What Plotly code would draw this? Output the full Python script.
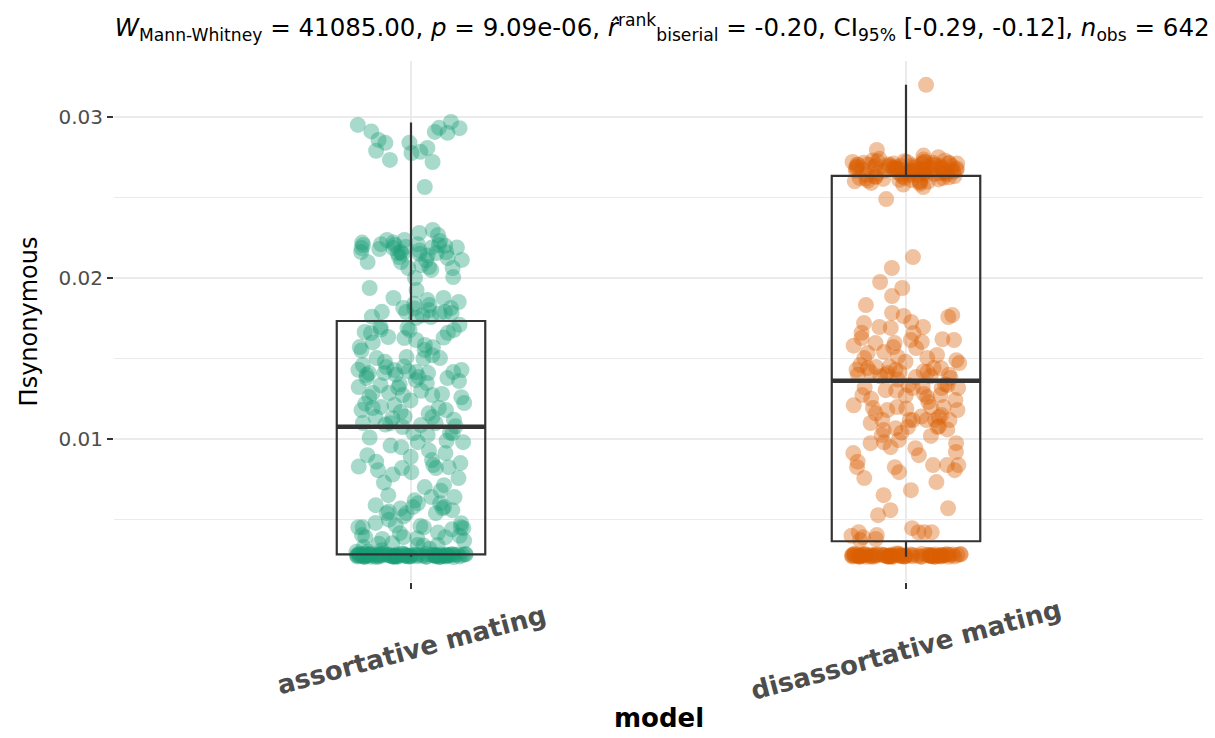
import plotly.graph_objects as go

categories = ["assortative mating", "disassortative mating"]
cat_pos = [1, 2]
colors = ["#1B9E77", "#D95F02"]

assortative_values = [
    0.02969, 0.02950, 0.02932, 0.02930, 0.02907, 0.02901, 0.02910, 0.02857, 0.02839, 0.02840,
    0.02807, 0.02790, 0.02783, 0.02776, 0.02733, 0.02720, 0.02565,
    0.02298, 0.02280, 0.02267, 0.02236, 0.02236, 0.02230, 0.02205, 0.02205, 0.02205, 0.02210,
    0.02193, 0.02186, 0.02186, 0.02190, 0.02161, 0.02161, 0.02155, 0.02155, 0.02150, 0.02124,
    0.02112, 0.02099, 0.02099, 0.02068, 0.02062, 0.02062, 0.02050, 0.02006, 0.02000, 0.01938,
    0.01925, 0.01876, 0.01876, 0.01863, 0.01851, 0.01832, 0.01814, 0.01814, 0.01801, 0.01789,
    0.01789, 0.01783, 0.01758, 0.01752, 0.02220, 0.02200, 0.02180, 0.02160, 0.02140, 0.02130,
    0.02170, 0.02210, 0.02110, 0.02080, 0.01810, 0.01780, 0.01760, 0.01840, 0.01790, 0.02220,
    0.02190, 0.02150, 0.01770,
    0.01677, 0.01658, 0.01615, 0.01509, 0.01503, 0.01571, 0.01677, 0.01665, 0.01696, 0.01690,
    0.01627, 0.01634, 0.01584, 0.01553, 0.01503, 0.01460, 0.01447, 0.01429, 0.01429, 0.01416,
    0.01410, 0.01410, 0.01416, 0.01398, 0.01385, 0.01410, 0.01348, 0.01366, 0.01335, 0.01379,
    0.01323, 0.01273, 0.01273, 0.01261, 0.01286, 0.01286, 0.01193, 0.01211, 0.01224, 0.01193,
    0.01168, 0.01180, 0.01137, 0.01130, 0.01137, 0.01087, 0.01099, 0.01099, 0.01075,
    0.01710, 0.01680, 0.01660, 0.01630, 0.01600, 0.01570, 0.01550, 0.01520, 0.01500, 0.01480,
    0.01450, 0.01430, 0.01420, 0.01400, 0.01380, 0.01360, 0.01340, 0.01320, 0.01300, 0.01280,
    0.01260, 0.01240, 0.01220, 0.01200, 0.01180, 0.01160, 0.01140, 0.01120, 0.01100, 0.01090,
    0.01080,
    0.01025, 0.01037, 0.01037, 0.00981, 0.00981, 0.00950, 0.00913, 0.00900, 0.00851, 0.00820,
    0.00826, 0.00820, 0.00795, 0.00839, 0.00807, 0.00870, 0.00758, 0.00714, 0.00702, 0.00640,
    0.00602, 0.00578, 0.00578, 0.00559, 0.00571, 0.00640, 0.00652, 0.00602, 0.00590, 0.00540,
    0.00540, 0.00540, 0.00466, 0.00453, 0.00453, 0.00447, 0.00453, 0.00453, 0.00478, 0.00404,
    0.00391, 0.00385, 0.00391, 0.00416, 0.00391, 0.00354, 0.00342, 0.00342,
    0.01040, 0.01010, 0.00990, 0.00960, 0.00930, 0.00890, 0.00860, 0.00830, 0.00780, 0.00730,
    0.00680, 0.00620, 0.00570, 0.00550, 0.00520, 0.00500, 0.00480, 0.00460, 0.00440, 0.00420,
    0.00400, 0.00380, 0.00370, 0.00350, 0.00340, 0.00330, 0.00320, 0.00310, 0.00300, 0.00300,
    0.00290, 0.00290,
    0.00270, 0.00275, 0.00280, 0.00272, 0.00278, 0.00285, 0.00268, 0.00282, 0.00276, 0.00271,
    0.00279, 0.00284, 0.00273, 0.00277, 0.00281, 0.00269, 0.00286, 0.00274, 0.00283, 0.00270,
    0.00278, 0.00272, 0.00288, 0.00275, 0.00280, 0.00267, 0.00282, 0.00276, 0.00271, 0.00285,
    0.00279, 0.00273, 0.00277, 0.00284, 0.00270, 0.00281, 0.00274, 0.00290, 0.00276, 0.00272,
    0.00283, 0.00279, 0.00268, 0.00286, 0.00275, 0.00280, 0.00271, 0.00277, 0.00284, 0.00273,
    0.00278, 0.00282, 0.00269, 0.00276, 0.00287, 0.00274, 0.00281, 0.00270, 0.00279, 0.00285,
    0.00272, 0.00277, 0.00283, 0.00275, 0.00280, 0.00268, 0.00284, 0.00276, 0.00273, 0.00279,
    0.00286, 0.00271, 0.00282, 0.00274, 0.00278, 0.00289, 0.00270, 0.00281, 0.00275, 0.00277,
    0.00273,
]

disassortative_values = [
    0.03199, 0.02795, 0.02760, 0.02750,
    0.02700, 0.02680, 0.02660, 0.02720, 0.02690, 0.02650, 0.02710, 0.02670, 0.02730, 0.02640,
    0.02695, 0.02675, 0.02705, 0.02655, 0.02685, 0.02715, 0.02665, 0.02725, 0.02645, 0.02700,
    0.02690, 0.02670, 0.02680, 0.02660, 0.02710, 0.02650, 0.02720, 0.02640, 0.02735, 0.02685,
    0.02695, 0.02675, 0.02705, 0.02665, 0.02655, 0.02715, 0.02645, 0.02690, 0.02700, 0.02680,
    0.02670, 0.02710, 0.02660, 0.02720, 0.02650, 0.02685, 0.02695, 0.02675, 0.02705, 0.02640,
    0.02730, 0.02665, 0.02690, 0.02680, 0.02700, 0.02655, 0.02715, 0.02670, 0.02645, 0.02725,
    0.02685, 0.02660, 0.02695, 0.02710, 0.02675, 0.02650, 0.02705, 0.02690, 0.02680, 0.02720,
    0.02665, 0.02700, 0.02640, 0.02685, 0.02670, 0.02740,
    0.02630, 0.02620, 0.02610, 0.02625, 0.02615, 0.02600, 0.02630, 0.02590, 0.02620, 0.02605,
    0.02628, 0.02612, 0.02595, 0.02580, 0.02632, 0.02618, 0.02608, 0.02622, 0.02598, 0.02585,
    0.02565, 0.02490, 0.02130, 0.02062, 0.01975, 0.01938, 0.01888, 0.01832, 0.01783, 0.01764,
    0.01758, 0.01658, 0.01690, 0.01615, 0.01596, 0.01627, 0.01571, 0.01727, 0.01696, 0.01770,
    0.01696, 0.01596, 0.01603, 0.01615, 0.01565, 0.01534, 0.01503, 0.01522, 0.01503, 0.01441,
    0.01472, 0.01441, 0.01490, 0.01447, 0.01398, 0.01416, 0.01416, 0.01416, 0.01385,
    0.01380, 0.01390, 0.01400, 0.01410, 0.01420, 0.01430, 0.01440, 0.01450, 0.01460, 0.01480,
    0.01510, 0.01540, 0.01580, 0.01620, 0.01660, 0.01720, 0.01400, 0.01370, 0.01390, 0.01430,
    0.02600,
    0.01335, 0.01317, 0.01323, 0.01317, 0.01335, 0.01304, 0.01317, 0.01261, 0.01242, 0.01273,
    0.01273, 0.01199, 0.01193, 0.01199, 0.01180, 0.01137, 0.01118, 0.01149, 0.01199, 0.01180,
    0.01118, 0.01118, 0.01075, 0.01118, 0.01068, 0.01075, 0.01118, 0.01056, 0.01025, 0.00994,
    0.00975, 0.00950, 0.00944, 0.00975, 0.00913, 0.00900, 0.00839, 0.00826, 0.00839, 0.00807,
    0.00826, 0.00795, 0.00839, 0.00733, 0.00758, 0.00683, 0.00652, 0.00571, 0.00559, 0.00528,
    0.00422, 0.00404, 0.00422, 0.00391, 0.00447, 0.00422, 0.00422, 0.00373,
    0.01340, 0.01320, 0.01300, 0.01280, 0.01270, 0.01250, 0.01230, 0.01210, 0.01190, 0.01160,
    0.01140, 0.01120, 0.01100, 0.01080, 0.01060, 0.01040, 0.01020, 0.00980, 0.00920, 0.00860,
    0.00400, 0.00380,
    0.00270, 0.00275, 0.00280, 0.00272, 0.00278, 0.00285, 0.00269, 0.00282, 0.00276, 0.00271,
    0.00279, 0.00284, 0.00273, 0.00277, 0.00281, 0.00269, 0.00286, 0.00274, 0.00283, 0.00270,
    0.00278, 0.00272, 0.00288, 0.00275, 0.00280, 0.00270, 0.00282, 0.00276, 0.00271, 0.00285,
    0.00279, 0.00273, 0.00277, 0.00284, 0.00270, 0.00281, 0.00274, 0.00290, 0.00276, 0.00272,
    0.00283, 0.00279, 0.00269, 0.00286, 0.00275, 0.00280, 0.00271, 0.00277, 0.00284, 0.00273,
    0.00278, 0.00282, 0.00269, 0.00276, 0.00287, 0.00274, 0.00281, 0.00270, 0.00279, 0.00285,
    0.00272, 0.00277, 0.00283, 0.00275, 0.00280, 0.00269, 0.00284, 0.00276, 0.00273, 0.00279,
    0.00286, 0.00271, 0.00282, 0.00274, 0.00278, 0.00289, 0.00270, 0.00281, 0.00275, 0.00277,
    0.00273,
]

# box statistics
box_q1 = [0.00284, 0.00366]
box_median = [0.01076, 0.01362]
box_q3 = [0.01733, 0.02634]
box_lower = [0.00270, 0.00269]
box_upper = [0.02965, 0.03199]

y_ticks = [0.01, 0.02, 0.03]
y_ticklabels = ["0.01", "0.02", "0.03"]
y_minor_ticks = [0.005, 0.015, 0.025]

box_width = 0.3
groups = [assortative_values, disassortative_values]

fig = go.Figure()

for i, vals in enumerate(groups):
    fig.add_trace(go.Box(
        x=[cat_pos[i]] * len(vals), y=vals,
        boxpoints="all", jitter=0.74, pointpos=0, width=box_width,
        fillcolor="rgba(0,0,0,0)", line=dict(color="rgba(0,0,0,0)", width=0),
        marker=dict(color=colors[i], size=16, opacity=0.38, line=dict(width=0)),
        showlegend=False, hoverinfo="y",
    ))

for i in range(2):
    fig.add_trace(go.Box(
        x=[cat_pos[i]], q1=[box_q1[i]], median=[box_median[i]], q3=[box_q3[i]],
        lowerfence=[box_lower[i]], upperfence=[box_upper[i]],
        width=box_width, whiskerwidth=0, fillcolor="rgba(0,0,0,0)",
        line=dict(color="#333333", width=2.2), showlegend=False, boxpoints=False,
    ))
    fig.add_trace(go.Scatter(
        x=[cat_pos[i] - box_width / 2, cat_pos[i] + box_width / 2],
        y=[box_median[i], box_median[i]], mode="lines",
        line=dict(color="#333333", width=4.5), showlegend=False, hoverinfo="skip",
    ))

title_text = ("<i>W</i><sub>Mann-Whitney</sub> = 41085.00, <i>p</i> = 9.09e-06, "
              "<i>r&#770;</i><sup>rank</sup><sub>biserial</sub> = -0.20, "
              "CI<sub>95%</sub> [-0.29, -0.12], <i>n</i><sub>obs</sub> = 642")

annotations = []
for i, c in enumerate(categories):
    annotations.append(dict(
        x=cat_pos[i], y=-0.1305, xref="x", yref="paper", text="<b>%s</b>" % c,
        textangle=-15, showarrow=False, xanchor="center", yanchor="middle",
        font=dict(family="DejaVu Sans", size=26, color="#4D4D4D"),
    ))
annotations.append(dict(
    x=0.5, y=-0.261, xref="paper", yref="paper", text="<b>model</b>",
    showarrow=False, xanchor="center", yanchor="middle",
    font=dict(family="DejaVu Sans", size=26, color="#000000"),
))

fig.update_layout(
    width=1215, height=738,
    margin=dict(l=114, r=12, t=61, b=156),
    paper_bgcolor="white", plot_bgcolor="white",
    boxmode="overlay",
    font=dict(family="DejaVu Sans"),
    title=dict(text=title_text, x=0.545, xanchor="center", y=0.963, yanchor="middle",
               xref="container", yref="container",
               font=dict(family="DejaVu Sans", size=24.5, color="#000000")),
    annotations=annotations,
    xaxis=dict(range=[0.4, 2.6], tickvals=cat_pos, showticklabels=False,
               ticks="outside", ticklen=6, tickwidth=1.5, tickcolor="#333333",
               showgrid=True, gridcolor="#EBEBEB", gridwidth=2, zeroline=False, showline=False),
    yaxis=dict(range=[0.00113, 0.03347], tickvals=y_ticks, ticktext=y_ticklabels,
               ticks="outside", ticklen=6, tickwidth=1.5, tickcolor="#333333",
               tickfont=dict(size=20, color="#4D4D4D"),
               showgrid=True, gridcolor="#EBEBEB", gridwidth=2, zeroline=False, showline=False,
               minor=dict(tickvals=y_minor_ticks, showgrid=True,
                          gridcolor="#EBEBEB", gridwidth=1, ticks=""),
               title=dict(text="Πsynonymous", font=dict(size=24, color="#000000"), standoff=14)),
)

fig.write_html("out.html")
